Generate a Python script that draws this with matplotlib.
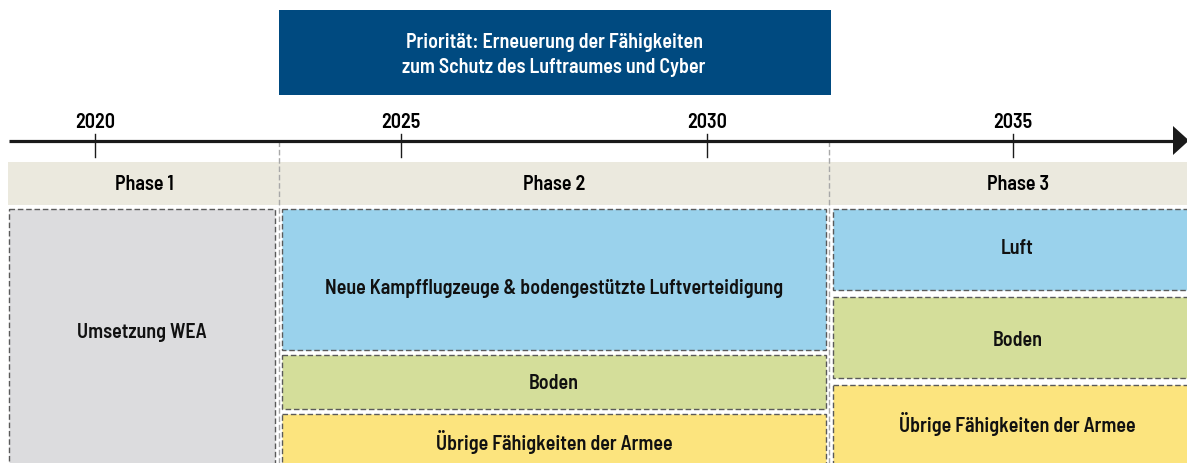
import matplotlib
matplotlib.use("Agg")
import matplotlib.pyplot as plt
from matplotlib import font_manager
from matplotlib.patches import Rectangle, Polygon

# schmale schrift suchen (wie im original), sonst Roboto
def pick_font():
    best = None
    for f in font_manager.fontManager.ttflist:
        narrow = (f.stretch in ('condensed', 'semi-condensed', 'extra-condensed')
                  or 'Narrow' in f.name or 'Condensed' in f.name)
        if not narrow or f.style != 'normal':
            continue
        w = f.weight if isinstance(f.weight, int) else 400
        score = abs(w - 600)
        if f.stretch == 'semi-condensed' or 'SemiCondensed' in f.fname:
            score -= 50
        if 'extra' in str(f.stretch) or 'ExtraCondensed' in f.fname:
            score += 300
        if best is None or score < best[0]:
            best = (score, f.fname)
    if best:
        return font_manager.FontProperties(fname=best[1]), best[1]
    return font_manager.FontProperties(family='Roboto', weight='medium'), ''

fp, font_file = pick_font()
semi = 'SemiCondensed' in font_file

# daten
years = [2020, 2025, 2030, 2035]
phase_names = ['Phase 1', 'Phase 2', 'Phase 3']
phase_start = [2018.6, 2023.0, 2032.0]
phase_end = [2023.0, 2032.0, 2038.15]

prio_text = 'Priorität: Erneuerung der Fähigkeiten\nzum Schutz des Luftraumes und Cyber'

# kästen: (phase, label, farbe)
box_phase = [0, 1, 1, 1, 2, 2, 2]
box_labels = ['Umsetzung WEA',
              'Neue Kampfflugzeuge & bodengestützte Luftverteidigung',
              'Boden', 'Übrige Fähigkeiten der Armee',
              'Luft', 'Boden', 'Übrige Fähigkeiten der Armee']
box_colors = ['#dcdcde', '#9ad2ec', '#d4de9a', '#fce47e',
              '#9ad2ec', '#d4de9a', '#fce47e']
# vertikale lage in pixel (oben, unten, textposition)
box_top = [210, 210, 356, 415, 210, 298, 386]
box_bottom = [470, 351, 410, 470, 291, 379, 470]
box_text_y = [333, 289, 384, 442, 249, 341, 424]

px_per_year = 61.2
x0 = 2020 - 95 / px_per_year
x1 = 2020 + (1187 - 95) / px_per_year
gap = 3.5 / px_per_year

fig = plt.figure(figsize=(11.87, 4.64), dpi=100)
ax = fig.add_axes([0, 0, 1, 1])
ax.set_xlim(x0, x1)
ax.set_ylim(464, 0)
ax.axis('off')

fs = 14.4 if semi else 15.3

# prioritäts-kasten
ax.add_patch(Rectangle((phase_start[1], 11), phase_end[1] - phase_start[1] + 2 / px_per_year, 85,
                       facecolor='#004a80', edgecolor='none'))
ax.text((phase_start[1] + phase_end[1]) / 2, 55, prio_text, color='white',
        ha='center', va='center', fontproperties=fp, fontsize=fs, linespacing=1.4)

# zeitachse
ax_left = x0 + 9 / px_per_year
arrow_x = x1 - 14 / px_per_year
ax.plot([ax_left, arrow_x], [141.5, 141.5], color='#1a1a1a', lw=2.3,
        solid_capstyle='butt', zorder=3)
ax.add_patch(Polygon([(arrow_x, 127), (arrow_x, 156), (x1 + 2 / px_per_year, 141.5)],
                     closed=True, facecolor='#1a1a1a', edgecolor='none', zorder=3))
for y in years:
    ax.plot([y, y], [135, 158], color='#1a1a1a', lw=1, zorder=3)
    ax.text(y, 122, str(y), ha='center', va='center', fontproperties=fp, fontsize=fs)

# phasen-band
ax.add_patch(Rectangle((x0 + 8 / px_per_year, 163), x1 - x0, 43,
                       facecolor='#ebe9de', edgecolor='none'))
for i, name in enumerate(phase_names):
    s = max(phase_start[i], x0 + 8 / px_per_year)
    ax.text((s + phase_end[i]) / 2, 185, name, ha='center', va='center',
            fontproperties=fp, fontsize=fs)

# gestrichelte trennlinien
for b in phase_start[1:]:
    ax.plot([b, b], [142, 470], color='#a8a8a8', lw=1, ls=(0, (4, 2)), zorder=2)

# kästen
for i in range(len(box_labels)):
    p = box_phase[i]
    left = phase_start[p] + gap
    right = phase_end[p] - gap
    if p == 0:
        left = x0 + 9 / px_per_year
    ax.add_patch(Rectangle((left, box_top[i]), right - left, box_bottom[i] - box_top[i],
                           facecolor=box_colors[i], edgecolor='#5a5a5a', lw=1,
                           ls=(0, (4, 2)), zorder=4))
    ax.text((left + right) / 2, box_text_y[i], box_labels[i], ha='center',
            va='center', fontproperties=fp, fontsize=fs, color='#111111', zorder=5)

fig.savefig('out.png', dpi=100)
